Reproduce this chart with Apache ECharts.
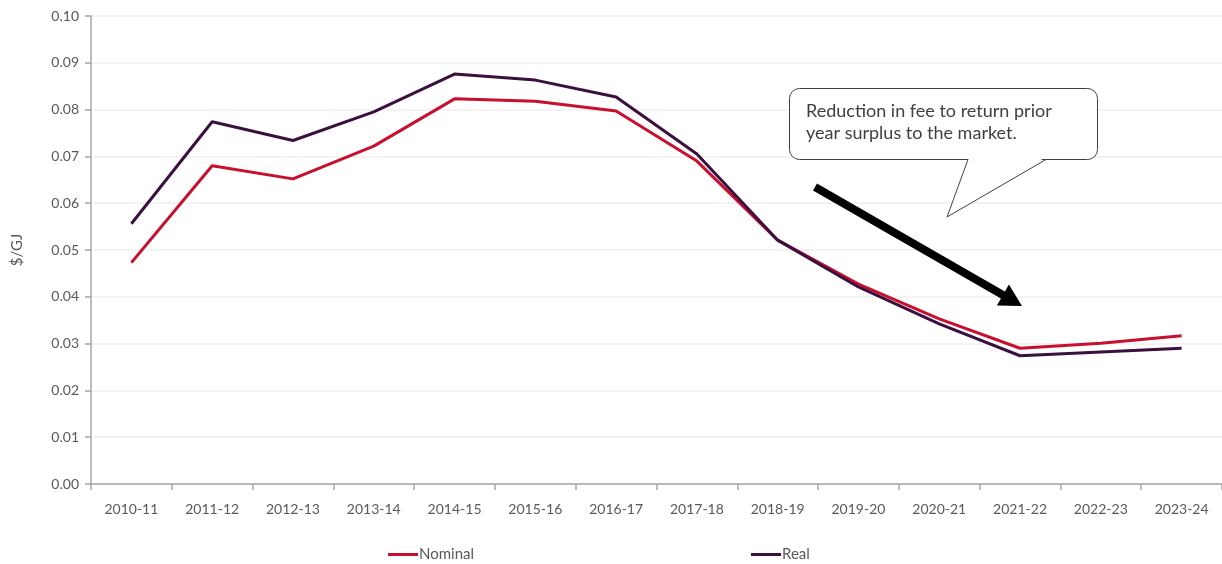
<!DOCTYPE html>
<html>
<head>
<meta charset="utf-8">
<style>
  html, body { margin: 0; padding: 0; background: #ffffff; }
  #chart { width: 1222px; height: 564px; }
</style>
<script src="https://cdn.jsdelivr.net/npm/echarts@6/dist/echarts.min.js"></script>
</head>
<body>
<div id="chart"></div>
<script>
const years = ["2010-11", "2011-12", "2012-13", "2013-14", "2014-15", "2015-16", "2016-17",
  "2017-18", "2018-19", "2019-20", "2020-21", "2021-22", "2022-23", "2023-24"];
const nominal = [0.0473, 0.0680, 0.0652, 0.0722, 0.0823, 0.0818, 0.0797,
  0.0690, 0.0521, 0.0427, 0.0353, 0.0290, 0.0301, 0.0317];
const real = [0.0556, 0.0774, 0.0734, 0.0795, 0.0876, 0.0863, 0.0827,
  0.0705, 0.0521, 0.0421, 0.0342, 0.0274, 0.0282, 0.0290];
const calloutText = "Reduction in fee to return prior\nyear surplus to the market.";

const font = "Lato, 'Noto Sans', sans-serif";
const grey = "#595959";

let chart = echarts.init(document.getElementById("chart"));

let option = {
  animation: false,
  textStyle: { fontFamily: font },
  grid: { left: 91, top: 16, right: -3, bottom: 80 },
  legend: {
    left: 383,
    top: 542,
    itemGap: 277,
    itemWidth: 30,
    itemHeight: 3,
    icon: "rect",
    textStyle: { fontSize: 15, color: grey, fontFamily: font, padding: [0, 0, 0, -4] },
    data: ["Nominal", "Real"],
  },
  xAxis: {
    type: "category",
    data: years,
    boundaryGap: true,
    axisLine: { lineStyle: { color: "#a6a6a6", width: 1.5 } },
    axisTick: { show: true, length: 6, lineStyle: { color: "#a6a6a6", width: 1.5 } },
    axisLabel: { color: grey, fontSize: 14, margin: 18, fontFamily: font },
  },
  yAxis: {
    type: "value",
    min: 0,
    max: 0.1,
    interval: 0.01,
    name: "$/GJ",
    nameLocation: "middle",
    nameGap: 66,
    nameRotate: 90,
    nameTextStyle: { color: grey, fontSize: 15, fontFamily: font },
    axisLine: { show: true, lineStyle: { color: "#a6a6a6", width: 1.5 } },
    axisTick: { show: true, length: 6, lineStyle: { color: "#a6a6a6", width: 1.5 } },
    axisLabel: {
      color: grey,
      fontSize: 14,
      margin: 12,
      fontFamily: font,
      formatter: (v) => v.toFixed(2),
    },
    splitLine: { lineStyle: { color: "#efefef", width: 1.5 } },
  },
  series: [
    {
      name: "Nominal",
      type: "line",
      data: nominal,
      showSymbol: false,
      itemStyle: { color: "#c8102e" },
      lineStyle: { color: "#c8102e", width: 3 },
    },
    {
      name: "Real",
      type: "line",
      data: real,
      showSymbol: false,
      itemStyle: { color: "#3b0f3f" },
      lineStyle: { color: "#3b0f3f", width: 3 },
    },
  ],
  graphic: [
    {
      // callout box
      type: "rect",
      shape: { x: 789.5, y: 88.5, width: 308, height: 71, r: 10 },
      style: { fill: "#ffffff", stroke: "#404040", lineWidth: 1 },
      z: 100,
    },
    {
      type: "polygon",
      shape: { points: [[969, 157.5], [947, 217], [1045, 157.5]] },
      style: { fill: "#ffffff" },
      z: 101,
    },
    {
      type: "polyline",
      shape: { points: [[968, 159.5], [947, 217], [1046, 159.5]] },
      style: { stroke: "#404040", lineWidth: 1, fill: null },
      z: 102,
    },
    {
      type: "text",
      left: 806,
      top: 100,
      style: {
        text: calloutText,
        fill: "#404040",
        font: "18px " + font,
        lineHeight: 22,
      },
      z: 103,
    },
    {
      // arrow pointing down towards 2021-22
      type: "polygon",
      shape: {
        points: [
          [817, 183.5], [1004.9, 291.5], [1008.9, 284.6], [1022, 306],
          [996.9, 305.4], [1000.9, 298.5], [813, 190.5],
        ],
      },
      style: { fill: "#000000" },
      z: 100,
    },
  ],
};

chart.setOption(option);
</script>
</body>
</html>
